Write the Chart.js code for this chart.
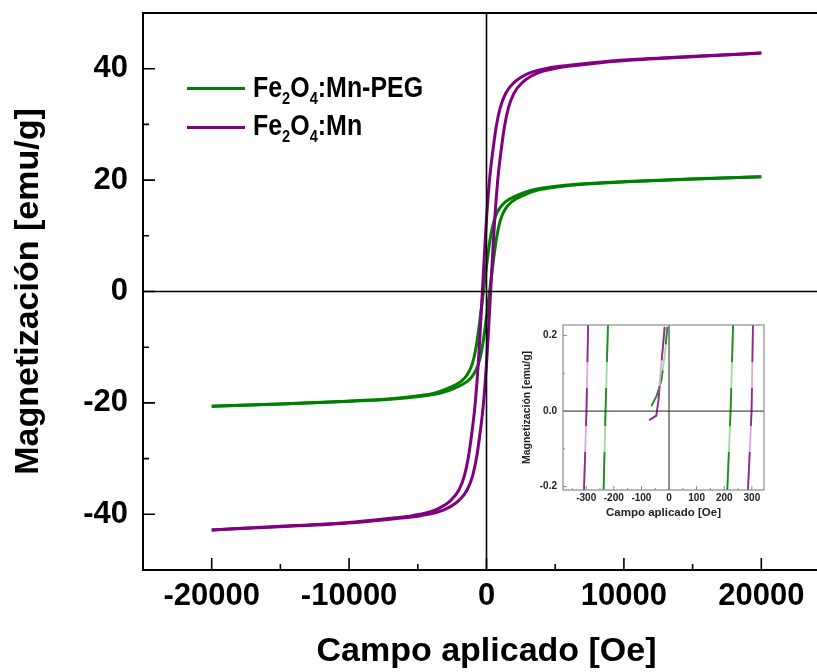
<!DOCTYPE html>
<html>
<head>
<meta charset="utf-8">
<script src="https://cdn.jsdelivr.net/npm/chart.js@4.4.1/dist/chart.umd.min.js"></script>
<style>
  html, body { margin: 0; padding: 0; background: #fff; overflow: hidden; }
  #wrap { position: relative; width: 817px; height: 672px; overflow: hidden; }
  #main { position: absolute; left: 0; top: 0; }
  #inset { position: absolute; left: 500px; top: 315px; }
  .leg-line { position: absolute; left: 187px; width: 58px; height: 3px; }
  .leg-text { position: absolute; left: 253px; font: bold 29px "Liberation Sans", Arial, sans-serif; line-height: 29px;
              white-space: nowrap; transform: scaleX(0.86); transform-origin: left top; color: #000; }
  .leg-text sub { font-size: 17px; vertical-align: -7px; line-height: 0; }
</style>
</head>
<body>
<div id="wrap">
  <canvas id="main" width="840" height="672"></canvas>
  <canvas id="inset" width="280" height="210"></canvas>
  <div id="legend"></div>
</div>
<script>
// axis ticks
const xTicks = [-20000, -10000, 0, 10000, 20000];
const xMinor = [-15000, -5000, 5000, 15000];
const yTicks = [-40, -20, 0, 20, 40];
const yMinor = [-30, -10, 10, 30];

const seriesNames = ['Fe₂O₄:Mn-PEG', 'Fe₂O₄:Mn'];
const seriesColors = ['#008000', '#800080'];

// Fe2O4:Mn-PEG loop (field in Oe, magnetization in emu/g)
const pegDownH = [20000, 14775, 9775, 6775, 4775, 3275, 2275, 1375, 975, 675, 475, 275, 75, -75, -225,
                  -375, -525, -725, -925, -1125, -1425, -1825, -2725, -3725, -5225, -7225, -10225, -15225, -20000];
const pegDownM = [20.6, 20.2, 19.7, 19.3, 18.8, 18.2, 17.3, 16.1, 15.0, 13.6, 12.0, 9.5, 6.0, 3.0, 0,
                  -3.0, -6.0, -9.5, -12.0, -13.6, -15.0, -16.1, -17.3, -18.2, -18.8, -19.3, -19.7, -20.2, -20.6];
const pegUpH = [-20000, -14775, -9775, -6775, -4775, -3275, -2275, -1375, -975, -675, -475, -275, -75, 75, 225,
                375, 525, 725, 925, 1125, 1425, 1825, 2725, 3725, 5225, 7225, 10225, 15225, 20000];
const pegUpM = [-20.6, -20.2, -19.7, -19.3, -18.8, -18.2, -17.3, -16.1, -15.0, -13.6, -12.0, -9.5, -6.0, -3.0, 0,
                3.0, 6.0, 9.5, 12.0, 13.6, 15.0, 16.1, 17.3, 18.2, 18.8, 19.3, 19.7, 20.2, 20.6];

// Fe2O4:Mn loop
const mnDownH = [20000, 14700, 9700, 6700, 4700, 3100, 2000, 1400, 1000, 700, 500, 300, 200, 100, 0, -100, -200, -300,
                 -400, -500, -600, -700, -800, -900, -1100, -1300, -1600, -2000, -2600, -3700, -5300, -7300, -10300, -15300, -20000];
const mnDownM = [42.8, 42.2, 41.5, 40.8, 40.2, 39.2, 37.5, 35.6, 33.0, 29.5, 26.0, 22.0, 19.5, 16.5, 13.0, 9.0, 4.5, 0,
                 -4.5, -9.0, -13.0, -16.5, -19.5, -22.0, -26.0, -29.5, -33.0, -35.6, -37.5, -39.2, -40.2, -40.8, -41.5, -42.2, -42.8];
const mnUpH = [-20000, -14700, -9700, -6700, -4700, -3100, -2000, -1400, -1000, -700, -500, -300, -200, -100, 0, 100, 200, 300,
               400, 500, 600, 700, 800, 900, 1100, 1300, 1600, 2000, 2600, 3700, 5300, 7300, 10300, 15300, 20000];
const mnUpM = [-42.8, -42.2, -41.5, -40.8, -40.2, -39.2, -37.5, -35.6, -33.0, -29.5, -26.0, -22.0, -19.5, -16.5, -13.0, -9.0, -4.5, 0,
               4.5, 9.0, 13.0, 16.5, 19.5, 22.0, 26.0, 29.5, 33.0, 35.6, 37.5, 39.2, 40.2, 40.8, 41.5, 42.2, 42.8];

// inset (zoom around the origin)
const inXTicks = [-300, -200, -100, 0, 100, 200, 300];
const inXMinor = [-350, -250, -150, -50, 50, 150, 250];
const inYTicks = [-0.2, 0, 0.2];
const inYMinor = [-0.1, 0.1];
const inPegDownH = [-237, -230, -221];
const inPegDownM = [-0.209, 0, 0.228];
const inPegUpH = [211, 223, 232];
const inPegUpM = [-0.209, 0, 0.228];
const inMnDownH = [-308, -299, -293];
const inMnDownM = [-0.209, 0, 0.228];
const inMnUpH = [286, 299, 304];
const inMnUpM = [-0.209, 0, 0.228];
const inMnStartH = [-72, -46, -38, -30, -22, -16];
const inMnStartM = [-0.024, -0.012, 0.03, 0.108, 0.17, 0.223];
const inPegStartH = [-64, -45, -28, -15, -6];
const inPegStartM = [0.013, 0.04, 0.08, 0.15, 0.223];

const FONT = '"Liberation Sans", Arial, sans-serif';
Chart.defaults.font.family = FONT;
Chart.defaults.color = '#000';

const pts = (h, m) => h.map((v, i) => ({ x: v, y: m[i] }));

// frame, zero lines and inward ticks
const boxPlugin = {
  id: 'box',
  afterDatasetsDraw(chart, args, o) {
    const { ctx, chartArea: a, scales: { x, y } } = chart;
    ctx.save();
    ctx.strokeStyle = o.crossColor;
    ctx.lineWidth = o.crossWidth;
    const x0 = x.getPixelForValue(0), y0 = y.getPixelForValue(0);
    ctx.beginPath();
    ctx.moveTo(x0, a.top); ctx.lineTo(x0, a.bottom);
    ctx.moveTo(a.left, y0); ctx.lineTo(a.right, y0);
    ctx.stroke();

    ctx.strokeStyle = o.frameColor;
    ctx.lineWidth = o.frameWidth;
    ctx.strokeRect(a.left, a.top, a.right - a.left, a.bottom - a.top);

    ctx.lineWidth = o.tickWidth;
    ctx.beginPath();
    const tx = (vals, len) => vals.forEach(v => {
      const p = x.getPixelForValue(v);
      ctx.moveTo(p, a.bottom); ctx.lineTo(p, a.bottom - len);
    });
    const ty = (vals, len) => vals.forEach(v => {
      const p = y.getPixelForValue(v);
      ctx.moveTo(a.left, p); ctx.lineTo(a.left + len, p);
    });
    tx(o.xMajor, o.majorLen); tx(o.xMinor, o.minorLen);
    ty(o.yMajor, o.majorLen); ty(o.yMinor, o.minorLen);
    ctx.stroke();
    ctx.restore();
  }
};

// keep the plot box where it is, ignoring the label overhang
const fixX = h => s => { s.height = h; s.paddingLeft = 0; s.paddingRight = 0; };
const fixY = w => s => { s.width = w; s.paddingTop = 0; s.paddingBottom = 0; };

const loop = (label, h, m, color) => ({
  label, data: pts(h, m), borderColor: color, backgroundColor: color,
  borderWidth: 3, pointRadius: 0, showLine: true, cubicInterpolationMode: 'monotone'
});

new Chart(document.getElementById('main'), {
  type: 'scatter',
  data: {
    datasets: [
      loop(seriesNames[1], mnDownH, mnDownM, seriesColors[1]),
      loop(seriesNames[1], mnUpH, mnUpM, seriesColors[1]),
      loop(seriesNames[0], pegDownH, pegDownM, seriesColors[0]),
      loop(seriesNames[0], pegUpH, pegUpM, seriesColors[0])
    ]
  },
  options: {
    responsive: false, animation: false, events: [],
    layout: { padding: { top: 13, right: 10, left: 0, bottom: 0 } },
    plugins: {
      legend: { display: false }, tooltip: { enabled: false },
      box: { crossColor: '#000', crossWidth: 1.6, frameColor: '#000', frameWidth: 2, tickWidth: 1.6,
             majorLen: 12, minorLen: 6, xMajor: xTicks, xMinor: xMinor, yMajor: yTicks, yMinor: yMinor }
    },
    scales: {
      x: {
        type: 'linear', min: -25000, max: 25000,
        afterBuildTicks: s => { s.ticks = xTicks.map(v => ({ value: v })); },
        afterFit: fixX(102),
        grid: { display: false, drawTicks: false }, border: { display: false },
        ticks: { font: { size: 31, weight: 'bold' }, padding: 8, autoSkip: false, maxRotation: 0, callback: v => String(v) },
        title: { display: true, text: 'Campo aplicado [Oe]', font: { size: 34, weight: 'bold' }, padding: { top: 0, bottom: 0 } }
      },
      y: {
        type: 'linear', min: -50, max: 50,
        afterBuildTicks: s => { s.ticks = yTicks.map(v => ({ value: v })); },
        afterFit: fixY(143),
        grid: { display: false, drawTicks: false }, border: { display: false },
        ticks: { font: { size: 31, weight: 'bold' }, padding: 15, callback: v => String(v) },
        title: { display: true, text: 'Magnetización [emu/g]', font: { size: 34, weight: 'bold' }, padding: { top: 8, bottom: 0 } }
      }
    }
  },
  plugins: [boxPlugin]
});

// inset lines: pale full line with a darker dashed line on top
const insetLine = (h, m, pale, dark) => [
  { data: pts(h, m), borderColor: dark, borderWidth: 1.8, borderDash: [38, 26], pointRadius: 0, showLine: true },
  { data: pts(h, m), borderColor: pale, borderWidth: 1.8, pointRadius: 0, showLine: true }
];
const pG = '#a6d6a6', dG = '#1b8f1b', pP = '#d8acd8', dP = '#902a90';

new Chart(document.getElementById('inset'), {
  type: 'scatter',
  data: {
    datasets: [
      ...insetLine(inMnDownH, inMnDownM, pP, dP),
      ...insetLine(inMnUpH, inMnUpM, pP, dP),
      ...insetLine(inPegDownH, inPegDownM, pG, dG),
      ...insetLine(inPegUpH, inPegUpM, pG, dG),
      ...insetLine(inMnStartH, inMnStartM, pP, dP),
      ...insetLine(inPegStartH, inPegStartM, pG, dG)
    ]
  },
  options: {
    responsive: false, animation: false, events: [],
    layout: { padding: { top: 10, right: 16, left: 0, bottom: 0 } },
    plugins: {
      legend: { display: false }, tooltip: { enabled: false },
      box: { crossColor: '#222', crossWidth: 1, frameColor: '#8c8c8c', frameWidth: 1.2, tickWidth: 1,
             majorLen: 4, minorLen: 2, xMajor: inXTicks, xMinor: inXMinor, yMajor: inYTicks, yMinor: inYMinor }
    },
    scales: {
      x: {
        type: 'linear', min: -384, max: 344,
        afterBuildTicks: s => { s.ticks = inXTicks.map(v => ({ value: v })); },
        afterFit: fixX(35),
        grid: { display: false, drawTicks: false }, border: { display: false },
        ticks: { font: { size: 10, weight: 'bold' }, color: '#222', padding: 2, autoSkip: false, maxRotation: 0, callback: v => String(v) },
        title: { display: true, text: 'Campo aplicado [Oe]', color: '#222', font: { size: 11.5, weight: 'bold' }, padding: { top: 0, bottom: 5 } }
      },
      y: {
        type: 'linear', min: -0.209, max: 0.228,
        afterBuildTicks: s => { s.ticks = inYTicks.map(v => ({ value: v })); },
        afterFit: fixY(63),
        grid: { display: false, drawTicks: false }, border: { display: false },
        ticks: { font: { size: 10, weight: 'bold' }, color: '#222', padding: 6, callback: v => v.toFixed(1) },
        title: { display: true, text: 'Magnetización [emu/g]', color: '#222', font: { size: 10.5, weight: 'bold' }, padding: { top: 21, bottom: 0 } }
      }
    }
  },
  plugins: [boxPlugin]
});

// legend with subscripts
const legend = document.getElementById('legend');
const lineTops = [87, 125.5];
const textTops = [72.5, 110.5];
seriesNames.forEach((name, i) => {
  const line = document.createElement('div');
  line.className = 'leg-line';
  line.style.top = lineTops[i] + 'px';
  line.style.background = seriesColors[i];
  legend.appendChild(line);
  const txt = document.createElement('div');
  txt.className = 'leg-text';
  txt.style.top = textTops[i] + 'px';
  txt.innerHTML = name.replace('₂', '<sub>2</sub>').replace('₄', '<sub>4</sub>');
  legend.appendChild(txt);
});
</script>
</body>
</html>
